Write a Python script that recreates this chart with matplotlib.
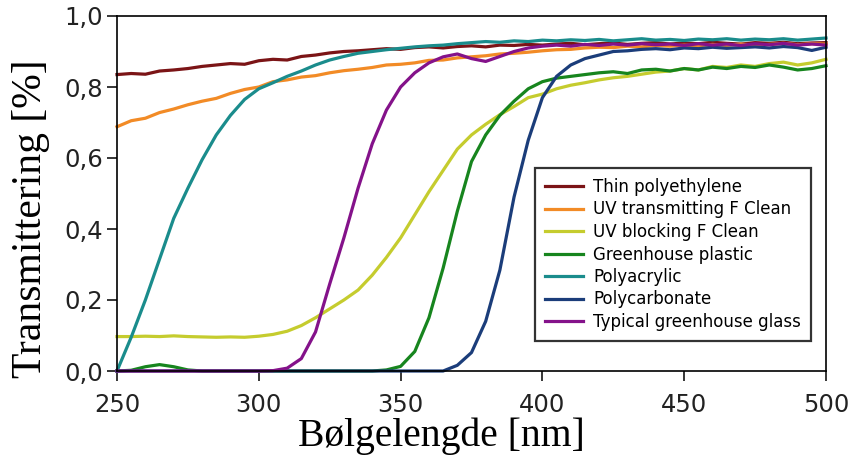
import matplotlib
matplotlib.use("Agg")
import matplotlib.pyplot as plt

# wavelength grid [nm], 5 nm steps
wavelength = list(range(250, 505, 5))

thin_polyethylene = [
    .835, .838, .836, .845, .848, .852, .858, .862, .866, .864,
    .874, .878, .876, .886, .890, .896, .900, .902, .905, .908,
    .906, .911, .913, .910, .914, .916, .913, .918, .917, .920,
    .918, .921, .923, .919, .922, .924, .920, .923, .925, .921,
    .924, .922, .926, .923, .921, .925, .923, .926, .922, .924, .925]

uv_transmitting = [
    .688, .705, .712, .728, .738, .750, .760, .768, .782, .793,
    .800, .815, .820, .828, .832, .840, .846, .850, .855, .862,
    .864, .868, .875, .876, .882, .885, .888, .893, .895, .898,
    .902, .905, .906, .910, .912, .911, .915, .913, .917, .915,
    .918, .916, .920, .917, .921, .918, .920, .923, .919, .922, .921]

uv_blocking = [
    .097, .097, .098, .097, .099, .097, .096, .095, .096, .095,
    .098, .103, .112, .128, .150, .175, .200, .228, .270, .320,
    .375, .440, .505, .565, .625, .665, .695, .722, .745, .770,
    .780, .795, .805, .812, .820, .826, .830, .836, .842, .845,
    .852, .848, .858, .855, .862, .858, .866, .870, .862, .868, .878]

greenhouse_plastic = [
    .000, .002, .012, .018, .012, .003, .000, .000, .000, .000,
    .000, .000, .000, .000, .000, .000, .000, .000, .000, .003,
    .013, .055, .150, .290, .450, .590, .665, .720, .760, .795,
    .815, .825, .830, .835, .840, .843, .838, .848, .850, .845,
    .852, .848, .856, .852, .858, .855, .862, .856, .848, .852, .860]

polyacrylic = [
    .000, .095, .200, .315, .430, .515, .595, .665, .720, .765,
    .795, .812, .830, .845, .862, .876, .886, .895, .900, .905,
    .909, .913, .916, .918, .922, .925, .928, .926, .930, .928,
    .932, .930, .933, .931, .934, .930, .933, .936, .932, .934,
    .931, .935, .933, .936, .932, .935, .933, .936, .932, .935, .938]

polycarbonate = [
    .000, .000, .000, .000, .000, .000, .000, .000, .000, .000,
    .000, .000, .000, .000, .000, .000, .000, .000, .000, .000,
    .000, .000, .000, .000, .016, .052, .140, .284, .490, .650,
    .770, .830, .862, .880, .890, .900, .902, .906, .908, .905,
    .910, .908, .912, .909, .911, .913, .910, .914, .911, .903, .912]

greenhouse_glass = [
    .000, .000, .000, .000, .000, .000, .000, .000, .000, .000,
    .000, .001, .008, .035, .110, .245, .375, .515, .640, .735,
    .800, .840, .868, .885, .893, .880, .872, .886, .900, .910,
    .915, .918, .915, .920, .917, .921, .918, .922, .919, .921,
    .917, .922, .918, .921, .917, .922, .919, .923, .918, .921, .918]

labels = ["Thin polyethylene", "UV transmitting F Clean", "UV blocking F Clean",
          "Greenhouse plastic", "Polyacrylic", "Polycarbonate",
          "Typical greenhouse glass"]
series = [thin_polyethylene, uv_transmitting, uv_blocking, greenhouse_plastic,
          polyacrylic, polycarbonate, greenhouse_glass]
colors = ["#7b1416", "#f28b26", "#c5cc2e", "#17851e", "#1a8c8c", "#1b3d7a", "#84128a"]

xticks = [250, 300, 350, 400, 450, 500]
yticks = [0.0, 0.2, 0.4, 0.6, 0.8, 1.0]
ytick_labels = ["0,0", "0,2", "0,4", "0,6", "0,8", "1,0"]

fig = plt.figure(figsize=(8.51, 4.59), dpi=100)
ax = fig.add_axes([117 / 851, 1 - 371 / 459, 709 / 851, 355 / 459])

for y, lab, c in zip(series, labels, colors):
    ax.plot(wavelength, y, color=c, lw=2.3, label=lab, clip_on=False)

ax.set_xlim(250, 500)
ax.set_ylim(0, 1)
ax.set_xticks(xticks)
ax.set_xticklabels([str(t) for t in xticks])
ax.set_yticks(yticks)
ax.set_yticklabels(ytick_labels)

for s in ax.spines.values():
    s.set_linewidth(1.2)
    s.set_color("black")
ax.tick_params(axis="both", direction="out", length=7, width=1.1,
               labelsize=17.5, colors="black")
ax.tick_params(axis="x", pad=9)
ax.tick_params(axis="y", pad=3)
for t in ax.get_xticklabels() + ax.get_yticklabels():
    t.set_color("#222222")

serif = ["Liberation Serif", "DejaVu Serif"]
ax.set_xlabel("Bølgelengde [nm]", fontsize=28.5, family=serif)
ax.xaxis.set_label_coords(0.458, -0.13)
ax.set_ylabel("Transmittering [%]", fontsize=30, family=serif)
ax.yaxis.set_label_coords(-0.094, 0.428)

leg = ax.legend(loc="upper left", bbox_to_anchor=(535 / 851, 1 - 168 / 459),
                bbox_transform=fig.transFigure, borderaxespad=0,
                fontsize=12, frameon=True, fancybox=False,
                edgecolor="#333333", framealpha=1, handlelength=2.3,
                handletextpad=0.6, labelspacing=0.27, borderpad=0.6)
leg.get_frame().set_linewidth(1.6)

fig.savefig("out.png", dpi=100)
